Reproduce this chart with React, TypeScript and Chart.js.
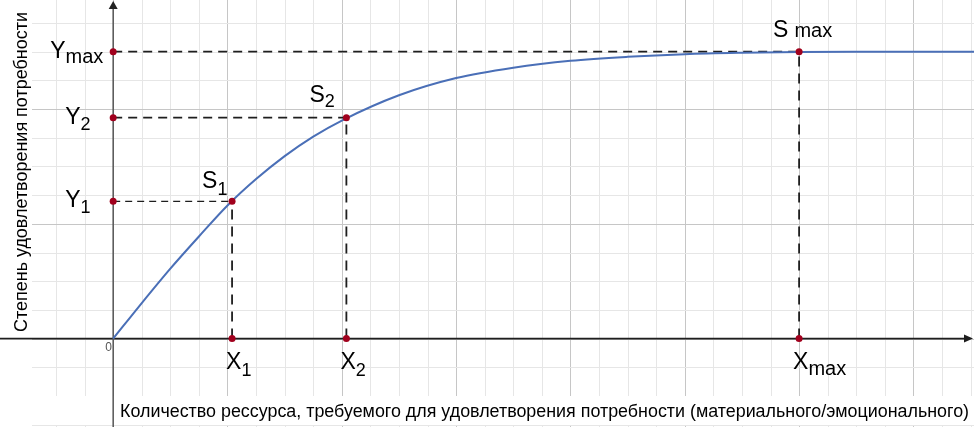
import React, { useEffect, useRef } from "react";
import { Chart, registerables } from "chart.js";

Chart.register(...registerables);

// curve (x in major grid cells)
const curveX = [0, 0.25, 0.5, 0.75, 1, 1.25, 1.5, 1.75, 2, 2.5, 3, 3.5, 4, 4.5, 5, 5.5, 6, 6.5, 7, 7.6];
const curveY = [0, 0.31, 0.61, 0.89, 1.16, 1.39, 1.59, 1.76, 1.9, 2.12, 2.27, 2.36, 2.42, 2.455, 2.478, 2.49, 2.497, 2.5, 2.5, 2.5];

// marked points S1, S2, Smax
const pointSub = ["1", "2", "max"];
const pointX = [1.04, 2.04, 6];
const pointY = [1.196, 1.925, 2.5];

const xRange = [-0.99, 7.53];
const yRange = [-0.77, 2.95];
const gridStep = 0.25;

const xTitle =
  "Количество рессурса, требуемого для удовлетворения потребности (материального/эмоционального)";
const yTitle = "Степень удовлетворения потребности";

const FONT = '"Liberation Sans", Arial, sans-serif';

const drawSub = (
  ctx: CanvasRenderingContext2D,
  main: string,
  sub: string,
  left: number,
  base: number,
  subSize: number,
  subDy: number,
  gap = 0
) => {
  ctx.font = `23px ${FONT}`;
  ctx.fillText(main, left, base);
  const w = ctx.measureText(main).width;
  ctx.font = `${subSize}px ${FONT}`;
  ctx.fillText(sub, left + w + gap, base + subDy);
};

const sketchPlugin = {
  id: "sketch",
  beforeDatasetsDraw(chart: any) {
    const { ctx, width, height } = chart;
    const { x, y } = chart.scales;
    ctx.save();
    ctx.fillStyle = "#ffffff";
    ctx.fillRect(0, 0, width, height);

    ctx.lineWidth = 1;
    for (let i = Math.ceil(xRange[0] / gridStep); i * gridStep <= xRange[1]; i++) {
      const px = Math.round(x.getPixelForValue(i * gridStep)) + 0.5;
      ctx.strokeStyle = i % 4 === 0 ? "#c6c6c6" : "#e6e6e6";
      ctx.beginPath();
      ctx.moveTo(px, 0);
      ctx.lineTo(px, height);
      ctx.stroke();
    }
    for (let i = Math.ceil(yRange[0] / gridStep); i * gridStep <= yRange[1]; i++) {
      const py = Math.round(y.getPixelForValue(i * gridStep)) + 0.5;
      ctx.strokeStyle = i % 4 === 0 ? "#c6c6c6" : "#e6e6e6";
      ctx.beginPath();
      ctx.moveTo(0, py);
      ctx.lineTo(width, py);
      ctx.stroke();
    }

    // white backgrounds behind the axis titles
    ctx.fillStyle = "#ffffff";
    ctx.fillRect(0, 0, 32, height);
    ctx.fillRect(0, 396, width, 29);

    const ox = x.getPixelForValue(0);
    const oy = y.getPixelForValue(0);

    // x axis with arrow
    ctx.strokeStyle = "#1e1e1e";
    ctx.lineWidth = 1.6;
    ctx.beginPath();
    ctx.moveTo(0, oy);
    ctx.lineTo(width - 8, oy);
    ctx.stroke();
    ctx.fillStyle = "#1e1e1e";
    ctx.beginPath();
    ctx.moveTo(width - 1, oy);
    ctx.lineTo(width - 10, oy - 4);
    ctx.lineTo(width - 10, oy + 4);
    ctx.closePath();
    ctx.fill();

    // y axis with arrow
    ctx.strokeStyle = "#555555";
    ctx.lineWidth = 1.5;
    ctx.beginPath();
    ctx.moveTo(ox, height);
    ctx.lineTo(ox, 8);
    ctx.stroke();
    ctx.fillStyle = "#222222";
    ctx.beginPath();
    ctx.moveTo(ox, 1);
    ctx.lineTo(ox - 4.5, 9);
    ctx.lineTo(ox + 4.5, 9);
    ctx.closePath();
    ctx.fill();
    ctx.restore();
  },
  afterDatasetsDraw(chart: any) {
    const { ctx } = chart;
    const { x, y } = chart.scales;
    const ox = x.getPixelForValue(0);
    const oy = y.getPixelForValue(0);
    ctx.save();
    ctx.fillStyle = "#000000";
    ctx.textBaseline = "alphabetic";
    ctx.textAlign = "left";

    pointSub.forEach((sub, i) => {
      const px = x.getPixelForValue(pointX[i]);
      const py = y.getPixelForValue(pointY[i]);
      const isMax = sub === "max";
      const subSize = isMax ? 20 : 18;
      // Y labels on the vertical axis
      drawSub(ctx, "Y", sub, isMax ? ox - 63 : ox - 48, py + 6, subSize, isMax ? 5 : 6);
      // X labels under the horizontal axis
      drawSub(ctx, "X", sub, px - 6, oy + 30, subSize, isMax ? 6 : 7);
      // S labels at the curve
      if (isMax) drawSub(ctx, "S", sub, px - 26, py - 15, 20, 0, 6);
      else if (i === 0) drawSub(ctx, "S", sub, px - 30, py - 13, 18, 7);
      else drawSub(ctx, "S", sub, px - 37, py - 16, 18, 5.5);
    });

    ctx.font = `12px ${FONT}`;
    ctx.fillStyle = "#555555";
    ctx.fillText("0", ox - 8, oy + 12);

    ctx.fillStyle = "#000000";
    ctx.font = `16px ${FONT}`;
    const xw = ctx.measureText(xTitle).width;
    ctx.font = `${(16 * 850) / xw}px ${FONT}`;
    ctx.fillText(xTitle, 120, 417);

    ctx.font = `16px ${FONT}`;
    const yw = ctx.measureText(yTitle).width;
    ctx.font = `${(16 * 320) / yw}px ${FONT}`;
    ctx.translate(27, 332);
    ctx.rotate(-Math.PI / 2);
    ctx.fillText(yTitle, 0, 0);
    ctx.restore();
  },
};

const App = () => {
  const canvasRef = useRef<HTMLCanvasElement>(null);

  useEffect(() => {
    document.body.style.margin = "0";
    if (!canvasRef.current) return;

    const guides: any[] = [];
    pointX.forEach((px, i) => {
      const thin = i === 0;
      const common = {
        type: "line",
        showLine: true,
        borderColor: "#1e1e1e",
        borderWidth: thin ? 1.2 : 1.8,
        pointRadius: 0,
        fill: false,
        order: 2,
      };
      guides.push({
        ...common,
        borderDash: thin ? [7, 5] : [9, 6],
        data: [
          { x: 0, y: pointY[i] },
          { x: px, y: pointY[i] },
        ],
      });
      guides.push({
        ...common,
        borderWidth: 1.8,
        borderDash: [10, 7],
        data: [
          { x: px, y: 0 },
          { x: px, y: pointY[i] },
        ],
      });
    });

    const markers: { x: number; y: number }[] = [];
    pointX.forEach((px, i) => {
      markers.push({ x: px, y: pointY[i] }, { x: 0, y: pointY[i] }, { x: px, y: 0 });
    });

    const chart = new Chart(canvasRef.current, {
      type: "scatter",
      data: {
        datasets: [
          {
            data: markers,
            showLine: false,
            pointRadius: 3.5,
            pointBackgroundColor: "#a1001d",
            pointBorderWidth: 0,
            order: 0,
          } as any,
          {
            type: "line",
            data: curveX.map((cx, i) => ({ x: cx, y: curveY[i] })),
            showLine: true,
            borderColor: "#4a6fb7",
            borderWidth: 2,
            pointRadius: 0,
            cubicInterpolationMode: "monotone",
            fill: false,
            order: 1,
          } as any,
          ...guides,
        ],
      },
      options: {
        animation: false,
        responsive: true,
        maintainAspectRatio: false,
        events: [],
        layout: { padding: 0, autoPadding: false },
        plugins: { legend: { display: false }, tooltip: { enabled: false } },
        scales: {
          x: { type: "linear", display: false, min: xRange[0], max: xRange[1] },
          y: { type: "linear", display: false, min: yRange[0], max: yRange[1] },
        },
      },
      plugins: [sketchPlugin],
    });
    return () => {
      chart.destroy();
    };
  }, []);

  return (
    <div style={{ width: 974, height: 427, position: "relative" }}>
      <canvas ref={canvasRef} />
    </div>
  );
};

export default App;
